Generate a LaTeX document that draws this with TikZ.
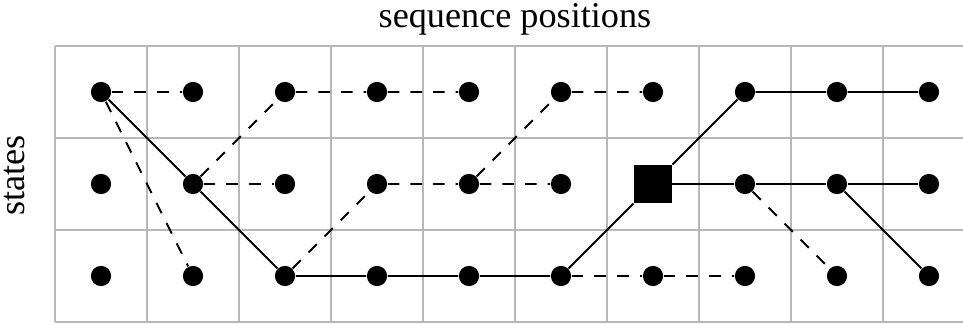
\documentclass[tikz,border=0pt]{standalone}
\usepackage{fontspec}
\setmainfont{Liberation Serif}
\usetikzlibrary{positioning}

\tikzset{
  dot/.style={circle,fill=black,inner sep=0pt,minimum size=0.22cm},
  best/.style={rectangle,fill=black,inner sep=0pt,minimum size=0.41cm},
  gridline/.style={black!28,line width=0.7pt},
  path/.style={line width=0.6pt},
  alt/.style={line width=0.6pt,dash pattern=on 3.6pt off 3.4pt},
  lbl/.style={font=\fontsize{11.2}{13}\selectfont,inner sep=0pt,anchor=base}
}

\begin{document}
\begin{tikzpicture}[x=1cm,y=1cm]
  \useasboundingbox (-0.598,-0.022) rectangle (9.87,3.5);
  \draw[gridline] (0,0) grid (10,3);
  \node[lbl] (title) at (5,3.2) {sequence positions};
  \node[lbl,rotate=90] (ylab) at (-0.337,1.59) {states};
  % cells: b = bottom, m = middle, t = top row
  \foreach \c in {0,...,9}{
    \foreach \r/\n in {0/b,1/m,2/t}{
      \ifnum\c\r=61\relax\else
        \node[dot] (\n\c) at (\c+0.5,\r+0.5) {};
      \fi
    }
  }
  \node[best] (m6) at (6.5,1.5) {};
  % discarded paths
  \draw[alt] (t0) -- (t1);
  \draw[alt] (t0) -- (b1);
  \draw[alt] (m1) -- (t2) -- (t3) -- (t4);
  \draw[alt] (m1) -- (m2);
  \draw[alt] (b2) -- (m3) -- (m4) -- (m5);
  \draw[alt] (m4) -- (t5) -- (t6);
  \draw[alt] (b5) -- (b6) -- (b7);
  \draw[alt] (m7) -- (b8);
  % kept path
  \draw[path] (t0) -- (m1) -- (b2) -- (b3) -- (b4) -- (b5) -- (m6) -- (t7) -- (t8) -- (t9);
  \draw[path] (m6) -- (m7) -- (m8) -- (m9);
  \draw[path] (m8) -- (b9);
\end{tikzpicture}
\end{document}
